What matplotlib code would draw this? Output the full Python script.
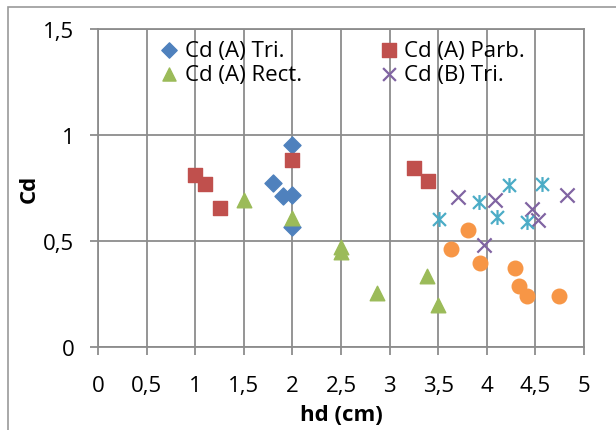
import numpy as np
import matplotlib
matplotlib.use('Agg')
import matplotlib.pyplot as plt
from matplotlib.patches import Rectangle
from matplotlib.path import Path

plt.rcParams['font.family'] = ['Open Sans', 'DejaVu Sans']

# Cd (A) Tri.
tri_a_x = [1.8, 1.9, 2.0, 2.0, 2.0]
tri_a_y = [0.775, 0.71, 0.955, 0.715, 0.565]
# Cd (A) Parb.
parb_a_x = [1.0, 1.1, 1.25, 2.0, 3.25, 3.4]
parb_a_y = [0.81, 0.77, 0.655, 0.88, 0.845, 0.785]
# Cd (A) Rect.
rect_a_x = [1.5, 2.0, 2.5, 2.5, 2.87, 3.38, 3.5]
rect_a_y = [0.695, 0.61, 0.47, 0.45, 0.255, 0.335, 0.2]
# Cd (B) Tri.
tri_b_x = [3.7, 4.08, 3.97, 4.47, 4.53, 4.82]
tri_b_y = [0.708, 0.693, 0.481, 0.649, 0.6, 0.716]
# unlabelled series - asterisks
star_b_x = [3.51, 3.92, 4.1, 4.23, 4.57, 4.41]
star_b_y = [0.602, 0.686, 0.615, 0.766, 0.77, 0.588]
# unlabelled series - circles
circ_b_x = [3.81, 3.63, 3.93, 4.29, 4.33, 4.41, 4.74]
circ_b_y = [0.552, 0.462, 0.395, 0.371, 0.286, 0.239, 0.242]

xticks = [0, 0.5, 1, 1.5, 2, 2.5, 3, 3.5, 4, 4.5, 5]
xlabels = ['0', '0,5', '1', '1,5', '2', '2,5', '3', '3,5', '4', '4,5', '5']
yticks = [0, 0.5, 1, 1.5]
ylabels = ['0', '0,5', '1', '1,5']

# excel-style star: an X with a vertical bar through it
star = Path([(-1, -1), (1, 1), (-1, 1), (1, -1), (0, -1.15), (0, 1.15)],
            [Path.MOVETO, Path.LINETO, Path.MOVETO, Path.LINETO, Path.MOVETO, Path.LINETO])

W, H = 616, 431
fig = plt.figure(figsize=(W / 100, H / 100), dpi=100)
ax = fig.add_axes([98 / W, 1 - 348 / H, (584 - 98) / W, (348 - 30) / H])

grid_c = '#8c8c8c'
fs = 16
ax.scatter(tri_a_x, tri_a_y, marker='D', s=75, color='#4F81BD', zorder=3, label='Cd (A) Tri.')
ax.scatter(parb_a_x, parb_a_y, marker='s', s=110, color='#C0504D', zorder=4, label='Cd (A) Parb.')
ax.scatter(rect_a_x, rect_a_y, marker='^', s=110, color='#9BBB59', zorder=5, label='Cd (A) Rect.')
ax.scatter(tri_b_x, tri_b_y, marker='x', s=105, color='#8064A2', linewidths=1.6, zorder=6, label='Cd (B) Tri.')
ax.scatter(star_b_x, star_b_y, marker=star, s=115, color='#4BACC6', linewidths=1.6, zorder=7)
ax.scatter(circ_b_x, circ_b_y, marker='o', s=110, color='#F79646', zorder=8)

ax.set_xlim(0, 5)
ax.set_ylim(0, 1.5)
ax.set_xticks(xticks)
ax.set_xticklabels(xlabels)
ax.set_yticks(yticks)
ax.set_yticklabels(ylabels)
ax.grid(True, color=grid_c, lw=1.3, zorder=0)
ax.set_axisbelow(True)
for s in ax.spines.values():
    s.set_color(grid_c)
    s.set_linewidth(1.3)
ax.tick_params(direction='out', length=6, width=1.3, color=grid_c, labelsize=fs)
ax.tick_params(axis='y', pad=11)
ax.tick_params(axis='x', pad=14)

ax.set_xlabel('hd (cm)', fontsize=fs, fontweight='bold', labelpad=6)
ax.set_ylabel('Cd', fontsize=fs, fontweight='bold', labelpad=2.5)

h, l = ax.get_legend_handles_labels()
order = [0, 2, 1, 3]
ax.legend([h[i] for i in order], [l[i] for i in order], ncol=2, frameon=False,
          fontsize=fs, loc='upper left', bbox_to_anchor=(0.101, 1.0),
          handletextpad=0.2, columnspacing=3.4, labelspacing=0.12,
          handlelength=1.0, scatterpoints=1, markerscale=0.9, borderaxespad=0.1)

fig.patches.append(Rectangle((8 / W, -0.1), 1.2, 1 - 8 / H + 0.1, transform=fig.transFigure,
                             fill=False, edgecolor='#9a9a9a', lw=1.2))

fig.savefig('out.png', dpi=100)
